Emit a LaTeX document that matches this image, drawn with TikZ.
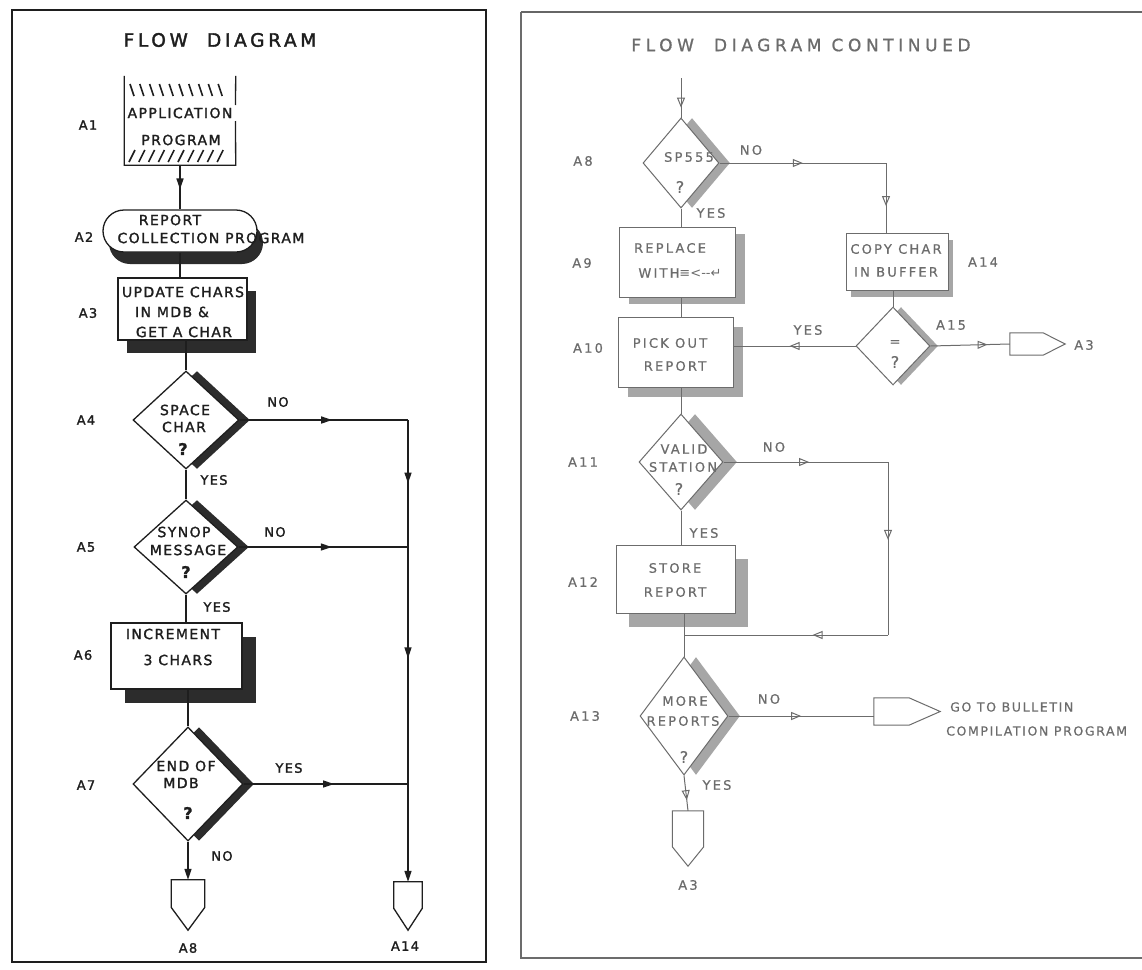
\documentclass[tikz,border=0pt]{standalone}
\usepackage{fontspec}
\usetikzlibrary{shapes.geometric,shapes.misc,shadows,arrows.meta,decorations.markings,calc}
\newfontfamily\lfont[LetterSpace=10,FakeBold=1.6]{DejaVu Sans}
\newfontfamily\ltitlefont[LetterSpace=20,FakeBold=2]{DejaVu Sans}
\newfontfamily\rfont[LetterSpace=17,FakeBold=0.6]{DejaVu Sans}
\newfontfamily\rfontb[LetterSpace=13,FakeBold=0.6]{DejaVu Sans}
\newfontfamily\rtitlefont[LetterSpace=27,FakeBold=0.8]{DejaVu Sans}
\newfontfamily\symfont{DejaVu Sans}
\definecolor{lk}{HTML}{1E1E1E}
\definecolor{lshc}{HTML}{2C2C2C}
\definecolor{rk}{HTML}{6C6C6C}
\definecolor{rshc}{HTML}{A6A6A6}
\begin{document}
\begin{tikzpicture}[x=1pt,y=-1pt,
  lline/.style={draw=lk,line width=1.3pt},
  rline/.style={draw=rk,line width=1pt},
  lshape/.style={draw=lk,line width=1.3pt,fill=white,inner sep=0pt},
  rshape/.style={draw=rk,line width=1pt,fill=white,inner sep=0pt},
  lsh/.style 2 args={drop shadow={shadow xshift=#1pt,shadow yshift=-#2pt,fill=lshc,opacity=1}},
  rsh/.style 2 args={drop shadow={shadow xshift=#1pt,shadow yshift=-#2pt,fill=rshc,opacity=1}},
  ltxt/.style={font=\lfont\fontsize{14}{16}\selectfont,text=lk,inner sep=0pt},
  lq/.style={font=\lfont\bfseries\fontsize{16}{18}\selectfont,text=lk,inner sep=0pt},
  llab/.style={font=\lfont\fontsize{13}{15}\selectfont,text=lk,inner sep=0pt},
  rtxt/.style={font=\rfont\fontsize{13}{15}\selectfont,text=rk,inner sep=0pt},
  rtxtb/.style={font=\rfontb\fontsize{12.5}{15}\selectfont,text=rk,inner sep=0pt},
  rq/.style={font=\rfont\fontsize{16}{18}\selectfont,text=rk,inner sep=0pt},
  lmid/.style={postaction={decorate,decoration={markings,mark=at position #1 with {\arrow{Triangle[length=11pt,width=7pt]}}}}},
  rmid/.style={postaction={decorate,decoration={markings,mark=at position #1 with {\arrow{Triangle[open,length=10pt,width=8pt]}}}}},
  ghost/.style={draw=none,inner sep=0pt}
]
\useasboundingbox (0,0) rectangle (1142,969);
\fill[white] (0,0) rectangle (1142,969);

% ---------------- LEFT PANEL ----------------
\draw[lk,line width=1.6pt] (12,10) rectangle (486,962);
\node[font=\ltitlefont\fontsize{18.5}{20}\selectfont,text=lk,inner sep=0pt] (ltitle) at (220,40) {FLOW\ \ DIAGRAM};

% A1
\node[ghost,minimum width=111pt,minimum height=89pt] (a1) at (180,120.5) {};
\draw[lline] (a1.north west) -- (a1.south west) -- (a1.south east) -- (235.5,121);
\draw[lline] (235.5,105) -- (a1.north east);
\foreach \i in {0,...,9} \draw[lline,line width=1.6pt] ({130+\i*9.8},84) -- ({134+\i*9.8},96);
\foreach \i in {0,...,9} \draw[lline,line width=1.6pt] ({129+\i*9.8},162) -- ({135+\i*9.8},150);
\node[ltxt] (a1t1) at (180,113) {APPLICATION};
\node[ltxt] (a1t2) at (181,140) {PROGRAM};
\node[llab] (a1l) at (88,125) {A1};

% A2
\node[lshape,rounded rectangle,minimum width=154pt,minimum height=42pt,lsh={6}{12}] (a2) at (180,231) {};
\node[ltxt] (a2t1) at (170,220) {REPORT};
\node[ltxt] (a2t2) at (211,238) {COLLECTION PROGRAM};
\node[llab] (a2l) at (84,237) {A2};

% A3
\node[lshape,rectangle,minimum width=129pt,minimum height=62pt,lsh={9}{13}] (a3) at (182.5,309) {};
\node[ltxt] (a3t1) at (183,292) {UPDATE CHARS};
\node[ltxt] (a3t2) at (172,312) {IN MDB \&};
\node[ltxt] (a3t3) at (184,332) {GET A CHAR};
\node[llab] (a3l) at (88,313) {A3};

% A4
\node[lshape,diamond,minimum width=106pt,minimum height=98pt,lsh={11}{0}] (a4) at (186,420) {};
\node[ltxt] (a4t1) at (185,410) {SPACE};
\node[ltxt] (a4t2) at (184,427) {CHAR};
\node[lq] (a4q) at (183,449) {?};
\node[llab] (a4l) at (86,420) {A4};

% A5
\node[lshape,diamond,minimum width=104pt,minimum height=94pt,lsh={11}{0}] (a5) at (186,547) {};
\node[ltxt] (a5t1) at (184,532) {SYNOP};
\node[ltxt] (a5t2) at (188,550) {MESSAGE};
\node[lq] (a5q) at (186,572) {?};
\node[llab] (a5l) at (86,547) {A5};

% A6
\node[lshape,rectangle,minimum width=131pt,minimum height=66pt,lsh={14}{14}] (a6) at (176.5,656) {};
\node[ltxt] (a6t1) at (173,634) {INCREMENT};
\node[ltxt] (a6t2) at (178,660) {3 CHARS};
\node[llab] (a6l) at (83,655) {A6};

% A7
\node[lshape,diamond,minimum width=110pt,minimum height=114pt,lsh={11}{0}] (a7) at (188,784) {};
\node[ltxt] (a7t1) at (186,766) {END OF};
\node[ltxt] (a7t2) at (181,783) {MDB};
\node[lq] (a7q) at (188,813) {?};
\node[llab] (a7l) at (86,785) {A7};

% off-page connectors
\node[ghost,minimum width=33pt,minimum height=50pt] (a8c) at (188,905) {};
\draw[lline] (a8c.north west) -- (a8c.north east) -- ($(a8c.north east)!0.55!(a8c.south east)$) -- (a8c.south) -- ($(a8c.north west)!0.55!(a8c.south west)$) -- cycle;
\node[llab] (a8cl) at (188,948) {A8};
\node[ghost,minimum width=28pt,minimum height=48pt] (a14c) at (408,906) {};
\draw[lline] (a14c.north west) -- (a14c.north east) -- ($(a14c.north east)!0.55!(a14c.south east)$) -- (a14c.south) -- ($(a14c.north west)!0.55!(a14c.south west)$) -- cycle;
\node[llab] (a14cl) at (405,946) {A14};

% junctions
\coordinate (j1) at (408,420);
\coordinate (j2) at (408,547);
\coordinate (j3) at (408,784);

% left connectors
\draw[lline,lmid=0.55] (a1.south) -- (a1.south |- a2.north);
\draw[lline] (a2.south) -- (a2.south |- a3.north);
\draw[lline] (a4.north |- a3.south) -- (a4.north);
\draw[lline,lmid=0.55] (a4.east) -- (j1);
\draw[lline,lmid=0.5] (j1) -- (j2);
\draw[lline,lmid=0.47] (j2) -- (j3);
\draw[lline,-{Triangle[length=11pt,width=7pt]}] (j3) -- (a14c.north);
\draw[lline] (a4.south) -- (a5.north);
\draw[lline,lmid=0.55] (a5.east) -- (j2);
\draw[lline] (a5.south) -- (a5.south |- a6.north);
\draw[lline] (a7.north |- a6.south) -- (a7.north);
\draw[lline,lmid=0.55] (a7.east) -- (j3);
\draw[lline,-{Triangle[length=11pt,width=7pt]}] (a7.south) -- (a8c.north);

\node[llab] (n4) at (278,402) {NO};
\node[llab] (y4) at (214,480) {YES};
\node[llab] (n5) at (275,532) {NO};
\node[llab] (y5) at (217,607) {YES};
\node[llab] (y7) at (289,768) {YES};
\node[llab] (n7) at (222,856) {NO};

% ---------------- RIGHT PANEL ----------------
\draw[rk,line width=1.2pt] (1142,958) -- (521,958) -- (521,12);
\draw[black!60,line width=1.8pt] (521,12) -- (1142,12);
\node[font=\rtitlefont\fontsize{17}{19}\selectfont,text=rk,inner sep=0pt] (rtitle) at (801,45) {FLOW\ \ DIAGRAM CONTINUED};

\coordinate (rin) at (681,78);

% A8 (right)
\node[rshape,diamond,minimum width=76pt,minimum height=90pt,rsh={11}{0}] (b8) at (681,163) {};
\node[rtxt] (b8t) at (689,157) {SP555};
\node[rq] (b8q) at (680,187) {?};
\node[rtxt] (b8l) at (583,161) {A8};

% A9
\node[rshape,rectangle,minimum width=116pt,minimum height=70pt,rsh={10}{7}] (b9) at (677,262) {};
\node[rtxt] (b9t1) at (670,248) {REPLACE};
\node[rtxt] (b9t2) at (680,273) {WITH{\symfont≡<-‐↵}};
\node[rtxt] (b9l) at (582,263) {A9};

% A10
\node[rshape,rectangle,minimum width=115pt,minimum height=70pt,rsh={10}{10}] (b10) at (675.5,352) {};
\node[rtxt] (b10t1) at (670,343) {PICK OUT};
\node[rtxt] (b10t2) at (675,366) {REPORT};
\node[rtxt] (b10l) at (588,348) {A10};

% A14 (copy char)
\node[rshape,rectangle,minimum width=102pt,minimum height=57pt,rsh={5}{7}] (b14) at (897,261.5) {};
\node[rtxt] (b14t1) at (896,249) {COPY CHAR};
\node[rtxt] (b14t2) at (896,272) {IN BUFFER};
\node[rtxt] (b14l) at (983,262) {A14};

% A15
\node[rshape,diamond,minimum width=74pt,minimum height=78pt,rsh={8}{0}] (b15) at (893,346) {};
\node[rtxt] (b15t) at (895,343) {=};
\node[rq] (b15q) at (895,362) {?};
\node[rtxt] (b15l) at (951,325) {A15};

% A3 connector (east)
\node[ghost,minimum width=55pt,minimum height=22pt] (b3e) at (1037.5,344) {};
\draw[rline] (b3e.north west) -- ($(b3e.north west)!0.6!(b3e.north east)$) -- (b3e.east) -- ($(b3e.south west)!0.6!(b3e.south east)$) -- (b3e.south west) -- cycle;
\node[rtxt] (b3el) at (1084,345) {A3};

% A11
\node[rshape,diamond,minimum width=84pt,minimum height=96pt,rsh={14}{0}] (b11) at (681,462) {};
\node[rtxt] (b11t1) at (684,449) {VALID};
\node[rtxt] (b11t2) at (683,467) {STATION};
\node[rq] (b11q) at (679,489) {?};
\node[rtxt] (b11l) at (583,462) {A11};

% A12
\node[rshape,rectangle,minimum width=119pt,minimum height=68pt,rsh={13}{14}] (b12) at (675.5,579) {};
\node[rtxt] (b12t1) at (675,568) {STORE};
\node[rtxt] (b12t2) at (675,592) {REPORT};
\node[rtxt] (b12l) at (583,582) {A12};

% A13
\node[rshape,diamond,minimum width=88pt,minimum height=118pt,rsh={12}{0}] (b13) at (684,716) {};
\node[rtxt] (b13t1) at (685,701) {MORE};
\node[rtxt] (b13t2) at (683,721) {REPORTS};
\node[rq] (b13q) at (684,757) {?};
\node[rtxt] (b13l) at (585,716) {A13};

% bulletin connector
\node[ghost,minimum width=66pt,minimum height=27pt] (bul) at (907,711.5) {};
\draw[rline] (bul.north west) -- ($(bul.north west)!0.53!(bul.north east)$) -- (bul.east) -- ($(bul.south west)!0.53!(bul.south east)$) -- (bul.south west) -- cycle;
\node[rtxtb,anchor=west] (bult1) at (950,707) {GO TO BULLETIN};
\node[rtxtb,anchor=west] (bult2) at (946,731) {COMPILATION PROGRAM};

% A3 connector (south)
\node[ghost,minimum width=31pt,minimum height=55pt] (b3s) at (688,838.5) {};
\draw[rline] (b3s.north west) -- (b3s.north east) -- ($(b3s.north east)!0.65!(b3s.south east)$) -- (b3s.south) -- ($(b3s.north west)!0.65!(b3s.south west)$) -- cycle;
\node[rtxt] (b3sl) at (688,885) {A3};

% right junctions
\coordinate (k1) at (886,163);
\coordinate (k2) at (888,462);
\coordinate (k3) at (888,635);
\coordinate (k4) at (684,635);

% right connectors
\draw[rline,rmid=0.75] (rin) -- (b8.north);
\draw[rline,rmid=0.5] (b8.east) -- (k1);
\draw[rline,rmid=0.62] (k1) -- (k1 |- b14.north);
\draw[rline] (b8.south) -- (b8.south |- b9.north);
\draw[rline] (b8.south |- b9.south) -- (b8.south |- b10.north);
\draw[rline] (b15.north |- b14.south) -- (b15.north);
\draw[rline,rmid=0.54] (b15.west) -- (b15.west -| b10.east);
\draw[rline,rmid=0.72] (b15.east) -- (b3e.west);
\draw[rline] (b11.north |- b10.south) -- (b11.north);
\draw[rline,rmid=0.52] (b11.east) -- (k2);
\draw[rline,rmid=0.45] (k2) -- (k3);
\draw[rline,rmid=0.37] (k3) -- (k4);
\draw[rline] (b11.south) -- (b11.south |- b12.north);
\draw[rline] (b13.north |- b12.south) -- (b13.north);
\draw[rline,rmid=0.5] (b13.east) -- (b13.east -| bul.west);
\draw[rline,rmid=0.7] (b13.south) -- (b3s.north);

\node[rtxt] (bn8) at (751,150) {NO};
\node[rtxt] (by8) at (711,213) {YES};
\node[rtxt] (by15) at (808,330) {YES};
\node[rtxt] (bn11) at (774,447) {NO};
\node[rtxt] (by11) at (704,533) {YES};
\node[rtxt] (bn13) at (769,699) {NO};
\node[rtxt] (by13) at (717,785) {YES};
\end{tikzpicture}
\end{document}
